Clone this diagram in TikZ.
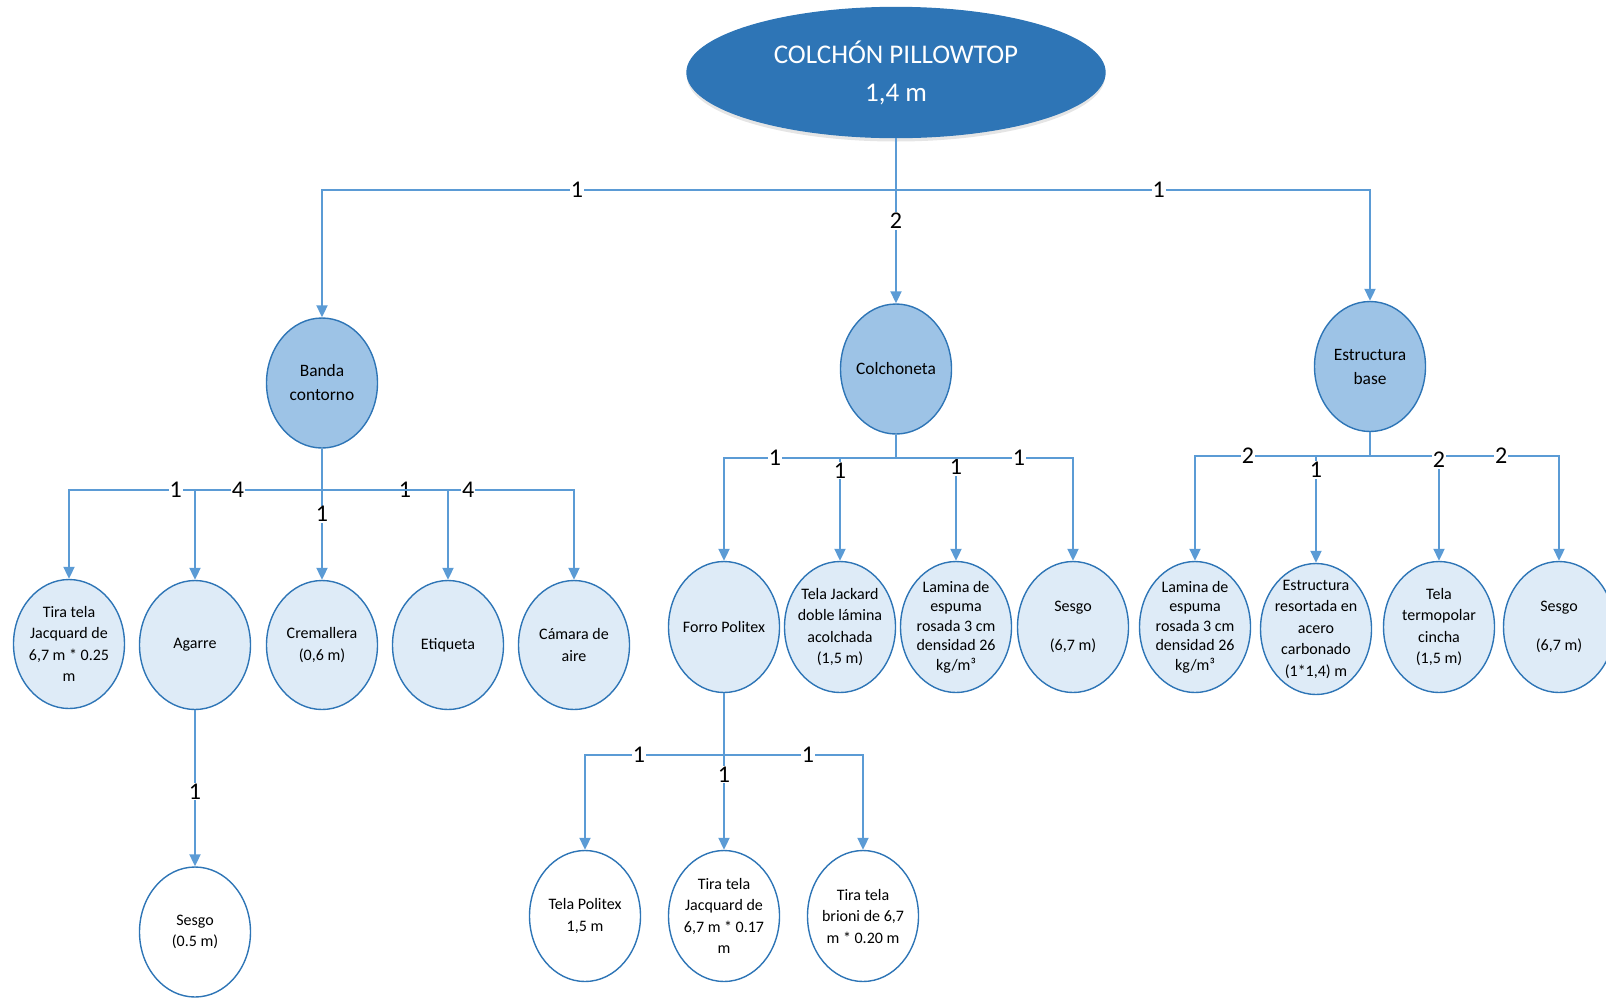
\documentclass[tikz,border=0pt]{standalone}
\usepackage{fontspec}
\setmainfont{Carlito}
\usetikzlibrary{shapes.geometric,arrows.meta,shadows}
\definecolor{lc}{HTML}{5B9BD5}
\definecolor{bc}{HTML}{2E75B6}
\definecolor{rootfill}{HTML}{2E75B6}
\definecolor{lvone}{HTML}{9DC3E6}
\definecolor{lvtwo}{HTML}{DEEBF7}
\tikzset{
  conn/.style={draw=lc, line width=2pt},
  arr/.style={conn, -{Triangle[length=12pt,width=11pt]}},
  lbl/.style={fill=white, inner sep=1pt, text=black, font=\fontsize{24}{24}\selectfont},
  ell/.style={ellipse, draw=bc, line width=1.4pt, inner sep=-30pt, align=center, text=black},
  rootnode/.style={ell, fill=rootfill, draw=rootfill, text=white, minimum width=418pt, minimum height=130pt,
     font=\fontsize{27}{38}\selectfont,
     drop shadow={shadow xshift=0pt, shadow yshift=-4pt, opacity=0.25, fill=black!40}},
  lone/.style={ell, fill=lvone, minimum width=111pt, minimum height=130pt, font=\fontsize{17.4}{24}\selectfont},
  ltwo/.style={ell, fill=lvtwo, minimum width=111pt, minimum height=129pt, font=\fontsize{16}{21.5}\selectfont},
  lthree/.style={ell, fill=white, minimum width=111pt, minimum height=130pt, font=\fontsize{16}{21.5}\selectfont},
  tight/.style={font=\fontsize{16}{19.5}\selectfont},
}
\begin{document}
\begin{tikzpicture}[x=1pt,y=-1pt]
\useasboundingbox (0,0) rectangle (1606,997);
% level 0 and 1
\node[rootnode] (root) at (896,72.5) {COLCHÓN PILLOWTOP\\1,4 m};
\node[lone] (banda) at (322,383) {Banda\\contorno};
\node[lone] (colch) at (896,369) {Colchoneta};
\node[lone] (estr) at (1370,366.5) {Estructura\\base};
% banda children
\node[ltwo] (tira) at (69,644) {Tira tela\\Jacquard de\\6,7 m * 0.25\\m};
\node[ltwo] (agarre) at (195,645) {Agarre};
\node[ltwo] (crem) at (322,645) {Cremallera\\(0,6 m)};
\node[ltwo] (etiq) at (448,645) {Etiqueta};
\node[ltwo] (cam) at (574,645) {Cámara de\\aire};
\node[lthree] (sesgoa) at (195,932) {Sesgo\\(0.5 m)};
% colchoneta children
\node[ltwo, minimum height=131pt] (forro) at (724,627) {Forro Politex};
\node[ltwo, minimum height=131pt] (telaj) at (840,627) {Tela Jackard\\doble lámina\\acolchada\\(1,5 m)};
\node[ltwo, tight, minimum height=131pt] (lamc) at (956,627) {Lamina de\\espuma\\rosada 3 cm\\densidad 26\\kg/m³};
\node[ltwo, minimum height=131pt] (sesgob) at (1073,627) {Sesgo\\[17pt](6,7 m)};
% estructura children
\node[ltwo, tight, minimum height=131pt] (lame) at (1195,627) {Lamina de\\espuma\\rosada 3 cm\\densidad 26\\kg/m³};
\node[ltwo, minimum height=131pt] (resort) at (1316,629) {Estructura\\resortada en\\acero\\carbonado\\(1*1,4) m};
\node[ltwo, minimum height=131pt] (telat) at (1439,627) {Tela\\termopolar\\cincha\\(1,5 m)};
\node[ltwo, minimum height=131pt] (sesgoc) at (1559,627) {Sesgo\\[17pt](6,7 m)};
% forro children
\node[lthree, minimum height=131pt] (telap) at (585,916) {Tela Politex\\1,5 m};
\node[lthree, minimum height=131pt] (tirj) at (724,916) {Tira tela\\Jacquard de\\6,7 m * 0.17\\m};
\node[lthree, minimum height=131pt] (brioni) at (863,916) {Tira tela\\brioni de 6,7\\m * 0.20 m};
% junctions
\coordinate (j0) at (896,190);
\coordinate (j1) at (322,490);
\coordinate (j2) at (896,458);
\coordinate (j3) at (1370,456);
\coordinate (j4) at (724,755);
% top level connectors
\draw[arr] (j0) -| (banda.north) node[lbl, pos=0.278] {1};
\draw[arr] (j0) -| (estr.north) node[lbl, pos=0.277] {1};
\draw[arr] (root) -- (colch) node[lbl, pos=0.5] {2};
% banda row
\draw[arr] (j1) -| (tira.north) node[lbl, pos=0.289] {1};
\draw[arr] (j1) -| (agarre.north) node[lbl, pos=0.331] {4};
\draw[arr] (j1) -| (etiq.north) node[lbl, pos=0.329] {1};
\draw[arr] (j1) -| (cam.north) node[lbl, pos=0.29] {4};
\draw[arr] (banda) -- (crem) node[lbl, pos=0.5] {1};
\draw[arr] (agarre) -- (sesgoa) node[lbl, pos=0.52] {1};
% colchoneta row
\draw[conn] (colch) -- (j2);
\draw[arr] (j2) -| (telaj.north) node[lbl, pos=0.56] {1};
\draw[arr] (j2) -| (lamc.north) node[lbl, pos=0.545] {1};
\draw[arr] (j2) -| (forro.north) node[lbl, pos=0.352] {1};
\draw[arr] (j2) -| (sesgob.north) node[lbl, pos=0.347] {1};
% estructura row
\draw[conn] (estr) -- (j3);
\draw[arr] (j3) -| (resort.north) node[lbl, pos=0.565] {1};
\draw[arr] (j3) -| (lame.north) node[lbl, pos=0.349] {2};
\draw[arr] (j3) -| (sesgoc.north) node[lbl, pos=0.347] {2};
\draw[arr] (j3) -| (telat.north) node[lbl, pos=0.52] {2};
% forro row
\draw[arr] (forro) -- (tirj) node[lbl, pos=0.52] {1};
\draw[arr] (j4) -| (telap.north) node[lbl, pos=0.306] {1};
\draw[arr] (j4) -| (brioni.north) node[lbl, pos=0.302] {1};
\end{tikzpicture}
\end{document}
